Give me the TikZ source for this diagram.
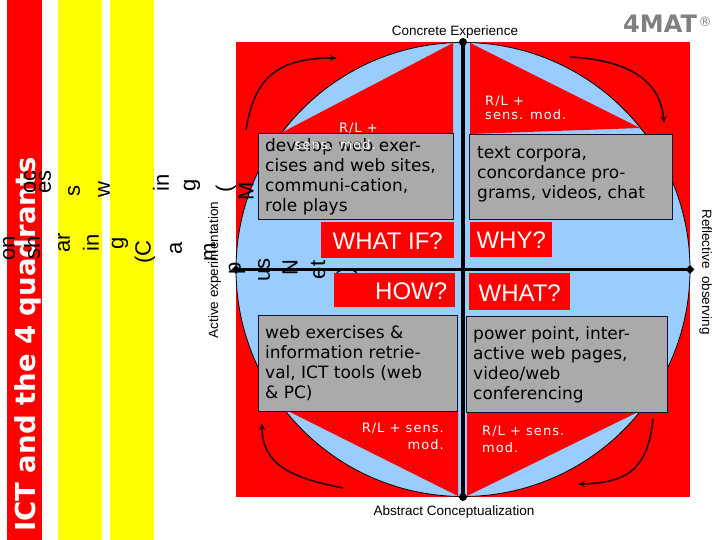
\documentclass[tikz,border=0pt]{standalone}
\usepackage{fontspec}
\setmainfont{Liberation Sans}
\newfontfamily\dv{DejaVu Sans}
\newfontfamily\dvl[LetterSpace=8]{DejaVu Sans}
\usetikzlibrary{arrows.meta,shapes.geometric}
\definecolor{pred}{RGB}{255,0,0}
\definecolor{pyel}{RGB}{255,255,0}
\definecolor{pblue}{RGB}{153,204,255}
\definecolor{pgray}{RGB}{170,170,170}
\definecolor{pmat}{RGB}{128,128,128}
\definecolor{pborder}{RGB}{20,20,50}
\definecolor{parrow}{RGB}{40,0,0}
\begin{document}
\begin{tikzpicture}[x=1pt,y=-1pt,
  graybox/.style={draw=pborder,line width=0.8pt,fill=pgray,inner sep=0pt,anchor=north west},
  boxtext/.style={font=\dv\fontsize{17}{20}\selectfont,align=left,anchor=west,inner sep=0pt},
  qbox/.style={fill=pred,inner sep=0pt,anchor=north west},
  qtext/.style={font=\fontsize{24}{28}\selectfont,text=white,inner sep=0pt,anchor=base},
  rl/.style={font=\dvl\fontsize{13}{16}\selectfont,text=white,inner sep=0pt},
  axlabel/.style={font=\fontsize{13.5}{16}\selectfont,inner sep=0pt,anchor=base},
  junk/.style={font=\fontsize{22}{24}\selectfont,rotate=90,inner sep=0pt},
  flow/.style={line width=1.6pt,draw=parrow,-{Stealth[length=7pt,width=6pt]}},
  vdot/.style={circle,fill=black,inner sep=0pt,minimum size=8pt},
  hdot/.style={diamond,fill=black,inner sep=0pt,minimum size=9pt}
]
\useasboundingbox (0,0) rectangle (720,540);
\fill[white] (0,0) rectangle (720,540);
% left bars
\fill[pred] (7,0) rectangle (42,540);
\fill[pyel] (58,0) rectangle (102,540);
\fill[pyel] (110,0) rectangle (154,540);
\node[rotate=90,font=\dv\bfseries\fontsize{27.5}{30}\selectfont,text=white,anchor=base west,inner sep=0pt] (title) at (35,532) {ICT and the 4 quadrants};
% square and circle
\fill[pred] (236,42) rectangle (690,497);
\filldraw[fill=pblue,draw=black,line width=0.8pt] (463,269.5) circle[radius=227pt];
% quadrant triangles
\fill[pred] (453,43) -- (279,134) -- (453,134) -- cycle;
\fill[pred] (470,43) -- (640,128) -- (470,134) -- cycle;
\fill[pred] (467,496) -- (638,412) -- (467,412) -- cycle;
\fill[pred] (458,496) -- (288,411) -- (458,411) -- cycle;
% axes
\node[vdot] (top) at (463,42) {};
\node[vdot] (bot) at (463,497) {};
\node[hdot] (lft) at (236,269.5) {};
\node[hdot] (rgt) at (690,269.5) {};
\draw[line width=4.5pt] (top.center) -- (bot.center);
\draw[line width=3pt] (lft.center) -- (rgt.center);
% flow arrows
\coordinate (a1s) at (246,130); \coordinate (a1e) at (337,58);
\coordinate (a2s) at (570,57); \coordinate (a2e) at (664,123);
\coordinate (a3s) at (653,419); \coordinate (a3e) at (578,484);
\coordinate (a4s) at (343,488); \coordinate (a4e) at (262,423);
\draw[flow] (a1s) .. controls (254,80) and (275,58) .. (a1e);
\draw[flow] (a2s) .. controls (625,60) and (660,78) .. (a2e);
\draw[flow] (a3s) .. controls (648,465) and (632,483) .. (a3e);
\draw[flow] (a4s) .. controls (292,478) and (262,465) .. (a4e);
% gray boxes
\node[graybox,minimum width=195pt,minimum height=86pt] (tlbox) at (258,133) {};
\node[graybox,minimum width=203pt,minimum height=85pt] (trbox) at (469,134) {};
\node[graybox,minimum width=199pt,minimum height=96pt] (blbox) at (258,315) {};
\node[graybox,minimum width=201pt,minimum height=96pt] (brbox) at (466,316) {};
\node[boxtext] (tltext) at ([xshift=7pt]tlbox.west) {develop web exer-\\cises and web sites,\\communi-cation,\\role plays};
\node[boxtext] (trtext) at ([xshift=8pt,yshift=3pt]trbox.west) {text corpora,\\concordance pro-\\grams, videos, chat};
\node[boxtext] (bltext) at ([xshift=7pt]blbox.west) {web exercises \&\\information retrie-\\val, ICT tools (web\\\& PC)};
\node[boxtext] (brtext) at ([xshift=7pt]brbox.west) {power point, inter-\\active web pages,\\video/web\\conferencing};
% red question boxes
\node[qbox,minimum width=133pt,minimum height=36pt] (whatif) at (321,222) {};
\node[qbox,minimum width=82pt,minimum height=35pt] (why) at (470,222) {};
\node[qbox,minimum width=121pt,minimum height=34pt] (how) at (334,273) {};
\node[qbox,minimum width=101pt,minimum height=37pt] (what) at (469,273) {};
\node[qtext] at ([yshift=-9pt]whatif.center) {WHAT IF?};
\node[qtext] at ([yshift=-9pt]why.center) {WHY?};
\node[qtext,anchor=base east] at ([xshift=-8pt,yshift=-9pt]how.east) {HOW?};
\node[qtext] at ([yshift=-10pt]what.center) {WHAT?};
% R/L labels
\node[rl,anchor=base east] (rl1a) at (378,133) {R/L +};
\node[rl,anchor=base east] (rl1b) at (376,150) {sens. mod.};
\node[rl,anchor=base west] (rl2a) at (485,106) {R/L +};
\node[rl,anchor=base west] (rl2b) at (485,120) {sens. mod.};
\node[rl,anchor=base east] (rl3a) at (444,432) {R/L + sens.};
\node[rl,anchor=base east] (rl3b) at (444,449) {mod.};
\node[rl,anchor=base west] (rl4a) at (482,435) {R/L + sens.};
\node[rl,anchor=base west] (rl4b) at (482,452) {mod.};
% stray rotated letters
\node[junk] (j1) at (9,248) {on};
\node[junk] (j2) at (32,248) {sh};
\node[junk] (j3) at (30,182) {oc};
\node[junk] (j4) at (45,182) {es};
\node[junk] (j5) at (64,243) {ar};
\node[junk] (j6) at (74,191) {s};
\node[junk] (j7) at (91,243) {in};
\node[junk] (j8) at (104,190) {w};
\node[junk] (j9) at (120,243) {g};
\node[junk] (j10) at (145,252) {(C};
\node[junk] (j11) at (161,183) {in};
\node[junk] (j12) at (176,248) {a};
\node[junk] (j13) at (192,185) {g};
\node[junk] (j14) at (210,252) {m};
\node[junk] (j15) at (226,189) {(};
\node[junk] (j16) at (246,191) {M};
\node[junk] (j17) at (237,268) {p};
\node[junk] (j18) at (264,270) {us};
\node[junk] (j19) at (290,268) {N};
\node[junk] (j20) at (318,270) {et};
\node[junk] (j21) at (347,271) {)};
% axis labels
\node[axlabel] (ce) at (455,36) {Concrete Experience};
\node[axlabel] (ac) at (454,515) {Abstract Conceptualization};
\node[axlabel,rotate=90] (ae) at (218,270) {Active experimentation};
\node[axlabel,rotate=-90] (ro) at (702,272) {Reflective\ \ observing};
% 4MAT
\node[font=\dv\bfseries\fontsize{24}{28}\selectfont,text=pmat,anchor=base west,inner sep=0pt] (mat) at (623,33) {4MAT};
\node[font=\dv\fontsize{13}{15}\selectfont,text=pmat,inner sep=0pt] (reg) at (705,22) {®};
\end{tikzpicture}
\end{document}
